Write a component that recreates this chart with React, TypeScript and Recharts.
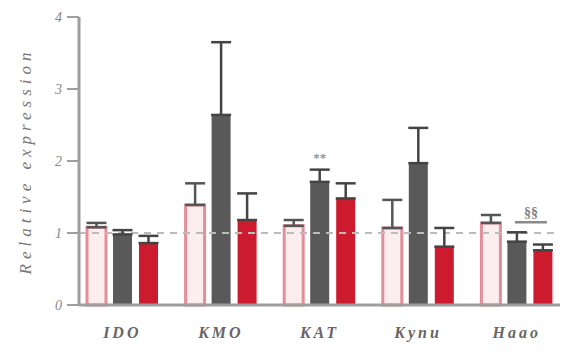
import React from 'react';
import { BarChart, Bar, XAxis, YAxis, ReferenceLine, ErrorBar, LabelList } from 'recharts';

const categories = ['IDO', 'KMO', 'KAT', 'Kynu', 'Haao'];
const pinkValues = [1.08, 1.39, 1.1, 1.07, 1.14];
const pinkErrors = [0.06, 0.3, 0.08, 0.39, 0.11];
const greyValues = [0.98, 2.64, 1.71, 1.97, 0.88];
const greyErrors = [0.06, 1.01, 0.17, 0.49, 0.13];
const redValues = [0.86, 1.18, 1.48, 0.81, 0.76];
const redErrors = [0.1, 0.37, 0.21, 0.26, 0.08];
const starMarks = ['', '', '**', '', ''];
const sectionMarks = ['', '', '', '', '§§'];
const yTicks = [0, 1, 2, 3, 4];
const yLabel = 'Relative expression';

const BAR_SIZE = 19;
const BAR_GAP = 7;
const AXIS_GREY = '#9e9e9e';
const SERIF = '"Liberation Serif", "DejaVu Serif", serif';

const data = categories.map((name, i) => ({
  name,
  pink: pinkValues[i],
  pinkErr: [0, pinkErrors[i]],
  grey: greyValues[i],
  greyErr: [0, greyErrors[i]],
  red: redValues[i],
  redErr: [0, redErrors[i]],
  mark:
    starMarks[i] || sectionMarks[i]
      ? { star: starMarks[i], section: sectionMarks[i], value: greyValues[i], top: greyValues[i] + greyErrors[i] }
      : null,
}));

const MarkLabel = (props: any) => {
  const v = props.value;
  if (!v || typeof v !== 'object') return null;
  const vb = props.viewBox && props.viewBox.height !== undefined ? props.viewBox : props;
  const x = Number(vb.x);
  const y = Number(vb.y);
  const w = Number(vb.width);
  const h = Number(vb.height);
  const pxPerUnit = h / v.value;
  const base = y + h;
  const topY = base - v.top * pxPerUnit;
  const cx = x + w / 2;
  if (v.star) {
    return (
      <text x={cx} y={topY - 8} textAnchor="middle" fontSize={13} fontWeight="bold" fill="#8797a3" fontFamily={SERIF}>
        {v.star}
      </text>
    );
  }
  const redCx = cx + w + BAR_GAP;
  const lineY = topY - 10;
  return (
    <g>
      <line x1={cx - 2} x2={redCx + 4} y1={lineY} y2={lineY} stroke="#8a8a8a" strokeWidth={2.5} />
      <text x={(cx + redCx) / 2 + 1} y={lineY - 5} textAnchor="middle" fontSize={14} fontWeight="bold" fill="#808080" fontFamily={SERIF}>
        {v.section}
      </text>
    </g>
  );
};

const XTick = (props: any) => {
  const { x, y, payload } = props;
  return (
    <text x={x} y={y} dy={33} textAnchor="middle" fontSize={16} fontStyle="italic" fontWeight="bold" fill="#666" fontFamily={SERIF} style={{ letterSpacing: 3 }}>
      {payload.value}
    </text>
  );
};

const YTick = (props: any) => {
  const { x, y, payload } = props;
  return (
    <text x={x - 5} y={y} dy={5} textAnchor="end" fontSize={14} fontStyle="italic" fill="#888" fontFamily={SERIF}>
      {payload.value}
    </text>
  );
};

const YDecor = (props: any) => {
  const vb = props.viewBox || {};
  const bx = Number(vb.x ?? 0);
  const by = Number(vb.y ?? 17);
  const bh = Number(vb.height ?? 288);
  const cx = bx + 25;
  const cy = by + bh / 2;
  return (
    <text
      x={cx}
      y={cy}
      transform={`rotate(-90, ${cx}, ${cy})`}
      textAnchor="middle"
      dominantBaseline="central"
      fontSize={17}
      fontStyle="italic"
      fill="#777"
      fontFamily={SERIF}
      style={{ letterSpacing: 5 }}
    >
      {yLabel}
    </text>
  );
};

export default function App() {
  return (
    <div style={{ margin: '-8px', width: 568, height: 352, overflow: 'hidden', background: '#fff' }}>
      <BarChart
        width={568}
        height={352}
        data={data}
        margin={{ top: 17, right: 2, bottom: 0, left: 0 }}
        barSize={BAR_SIZE}
        barGap={BAR_GAP}
      >
        <XAxis
          dataKey="name"
          height={47}
          tickLine={false}
          tickSize={0}
          tickMargin={0}
          padding={{ left: -6, right: 0 }}
          axisLine={{ stroke: AXIS_GREY, strokeWidth: 3 }}
          tick={<XTick />}
          interval={0}
        />
        <YAxis
          width={79}
          domain={[0, 4]}
          ticks={yTicks}
          tickLine={{ stroke: AXIS_GREY, strokeWidth: 2 }}
          tickSize={12}
          tickMargin={0}
          axisLine={{ stroke: AXIS_GREY, strokeWidth: 3 }}
          tick={<YTick />}
          label={<YDecor />}
        />
        <ReferenceLine y={1} stroke="#bbb" strokeWidth={2} strokeDasharray="7 6" />
        <Bar dataKey="pink" fill="#fcedef" stroke="#e58d98" strokeWidth={3} isAnimationActive={false}>
          <ErrorBar dataKey="pinkErr" width={10} strokeWidth={2.5} stroke="#555" direction="y" />
        </Bar>
        <Bar dataKey="grey" fill="#595959" isAnimationActive={false}>
          <ErrorBar dataKey="greyErr" width={10} strokeWidth={2.5} stroke="#444" direction="y" />
          <LabelList dataKey="mark" content={<MarkLabel />} />
        </Bar>
        <Bar dataKey="red" fill="#cc1a2e" isAnimationActive={false}>
          <ErrorBar dataKey="redErr" width={10} strokeWidth={2.5} stroke="#444" direction="y" />
        </Bar>
      </BarChart>
    </div>
  );
}
